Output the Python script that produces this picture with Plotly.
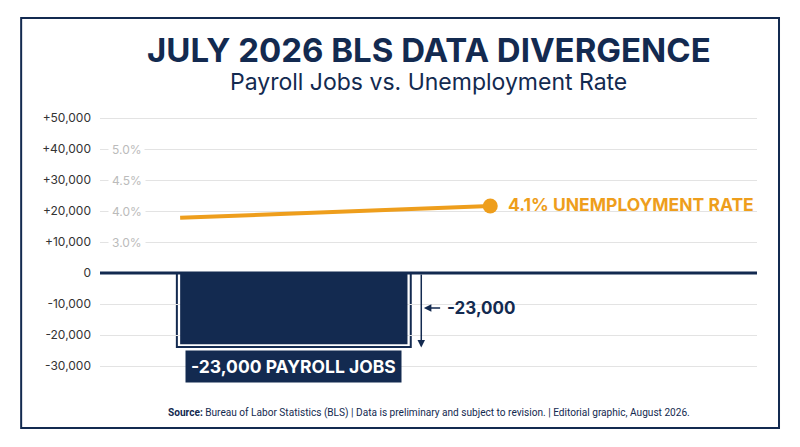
import plotly.graph_objects as go

# Data
bar_x = [0.295]
payroll_jobs = [-23000]
rate_x = [0.122, 0.594]
unemployment_rate = [3.89, 4.08]
job_ticks = [50000, 40000, 30000, 20000, 10000, 0, -10000, -20000, -30000]
job_tick_text = ['+50,000', '+40,000', '+30,000', '+20,000', '+10,000', '0', '-10,000', '-20,000', '-30,000']
rate_tick_pos = [5.0, 4.5, 4.0, 3.5]
rate_tick_text = ['5.0%', '4.5%', '4.0%', '3.0%']

NAVY = '#132A50'
ORANGE = '#EE9E1C'
FONT = 'Inter, sans-serif'

# secondary scale: 4.0% sits on the +20,000 line, 0.5 pts per 10,000
y_rng = [-37740, 52580]
y2_rng = [4.0 + (v - 20000) * 0.00005 for v in y_rng]

fig = go.Figure()
fig.add_trace(go.Bar(x=bar_x, y=payroll_jobs, width=0.346,
                     marker=dict(color=NAVY, line=dict(color='white', width=0)),
                     hoverinfo='skip'))
fig.add_trace(go.Scatter(x=rate_x, y=unemployment_rate, yaxis='y2', mode='lines',
                         line=dict(color=ORANGE, width=4), hoverinfo='skip'))
fig.add_trace(go.Scatter(x=rate_x[-1:], y=unemployment_rate[-1:], yaxis='y2', mode='markers',
                         marker=dict(color=ORANGE, size=15), hoverinfo='skip'))

# outer outline around the bar
fig.add_shape(type='rect', xref='x', yref='y', x0=0.117, x1=0.473, y0=0, y1=-23900,
              line=dict(color=NAVY, width=2), fillcolor='rgba(0,0,0,0)', layer='below')
# zero line
fig.add_shape(type='line', xref='paper', yref='y', x0=0, x1=1, y0=0, y1=0,
              line=dict(color=NAVY, width=3))
# frame
fig.add_shape(type='rect', xref='paper', yref='paper', x0=-0.120, x1=1.0335, y0=-0.136, y1=1.329,
              line=dict(color=NAVY, width=2))

ann = []
for p, t in zip(rate_tick_pos, rate_tick_text):
    ann.append(dict(x=0.012, y=p, xref='paper', yref='y2', text=t, showarrow=False,
                    xanchor='left', yanchor='middle', bgcolor='white', borderpad=3,
                    font=dict(family=FONT, size=12, color='#BBBBBB')))
ann += [
    dict(x=0.489, y=-24000, ax=0.489, ay=0, xref='x', yref='y', axref='x', ayref='y',
         showarrow=True, arrowhead=2, arrowsize=1, arrowwidth=1.5, arrowcolor=NAVY, text=''),
    dict(x=0.493, y=-11300, ax=0.52, ay=-11300, xref='x', yref='y', axref='x', ayref='y',
         showarrow=True, arrowhead=2, arrowsize=1, arrowwidth=1.5, arrowcolor=NAVY, text=''),
    dict(x=0.525, y=-11300, xref='x', yref='y', text='<b>-23,000</b>', showarrow=False,
         xanchor='left', yanchor='middle', font=dict(family=FONT, size=17, color=NAVY)),
    dict(x=0.295, y=-30200, xref='x', yref='y', text='<b>-23,000 PAYROLL JOBS</b>', showarrow=False,
         yanchor='middle', bgcolor=NAVY, borderpad=5, font=dict(family=FONT, size=17.5, color='white')),
    dict(x=0.618, y=4.1, xref='x', yref='y2', text='<b>4.1% UNEMPLOYMENT RATE</b>', showarrow=False,
         xanchor='left', yanchor='middle', font=dict(family=FONT, size=17.5, color=ORANGE)),
    dict(x=0.5, y=1.214, xref='paper', yref='paper', xanchor='center', yanchor='middle', showarrow=False,
         text='<b>JULY 2026 BLS DATA DIVERGENCE</b>', font=dict(family=FONT, size=33, color=NAVY)),
    dict(x=0.5, y=1.1, xref='paper', yref='paper', xanchor='center', yanchor='middle', showarrow=False,
         text='Payroll Jobs vs. Unemployment Rate', font=dict(family=FONT, size=23, color=NAVY)),
    dict(x=0.5, y=-0.083, xref='paper', yref='paper', xanchor='center', yanchor='middle', showarrow=False,
         text='<b>Source:</b> Bureau of Labor Statistics (BLS) | Data is preliminary and subject to revision. | Editorial graphic, August 2026.',
         font=dict(family='Roboto, sans-serif', size=10.1, color=NAVY)),
]

fig.update_layout(
    width=800, height=447,
    margin=dict(l=92, r=51, t=102, b=65),
    plot_bgcolor='white', paper_bgcolor='white',
    showlegend=False,
    annotations=ann,
    xaxis=dict(range=[0, 1], visible=False),
    yaxis=dict(range=y_rng, tickvals=job_ticks, ticktext=job_tick_text,
               gridcolor='#E3E3E3', gridwidth=1, zeroline=False, showline=False,
               ticks='', ticklabelstandoff=8,
               tickfont=dict(family=FONT, size=12, color='#333333')),
    yaxis2=dict(range=y2_rng, overlaying='y', visible=False),
)

fig.write_html("out.html")
